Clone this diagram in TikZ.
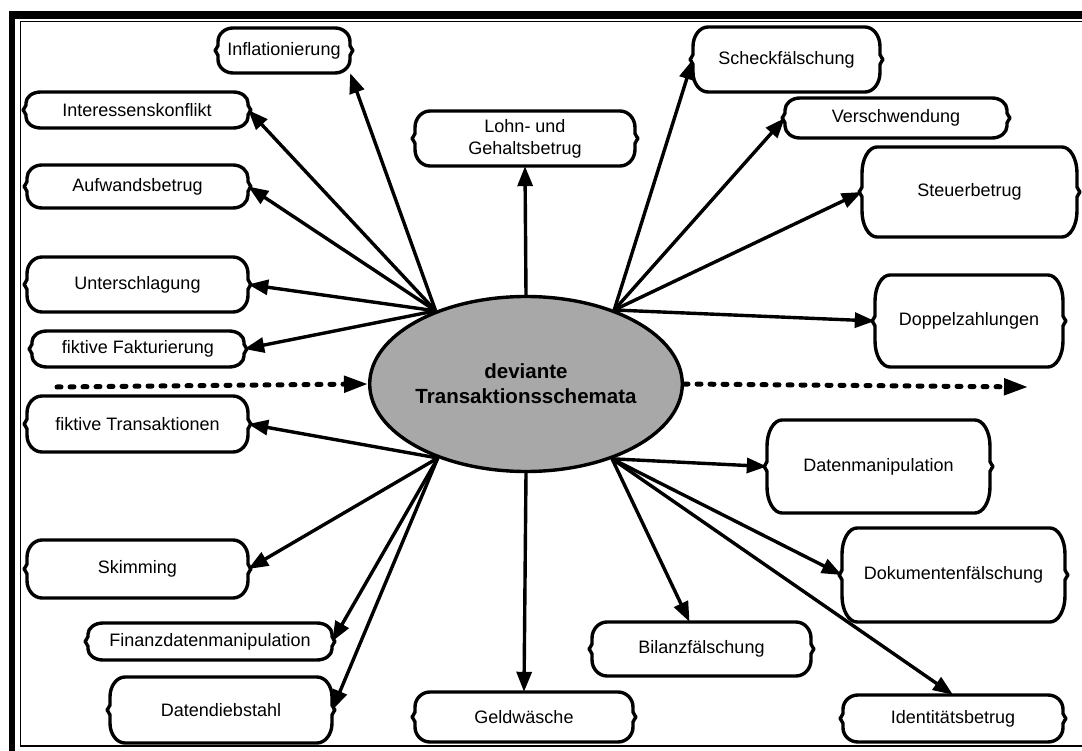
\documentclass[tikz,border=0pt]{standalone}
\usepackage{fontspec}
\setmainfont{Liberation Sans}
\usetikzlibrary{shapes.geometric,arrows.meta}
\definecolor{hubgray}{RGB}{168,168,168}
\tikzset{
  boxline/.style={line width=3.4pt, line join=round},
  boxlabel/.style={inner sep=0pt, font=\fontsize{18}{22}\selectfont, align=center},
  link/.style={line width=3.4pt, -{Triangle[length=20pt,width=15pt]}},
  flow/.style={line width=5pt, line cap=round, dash pattern=on 4pt off 9pt,
    -{Triangle[length=24pt,width=16pt]}},
  framebar/.style={fill=black},
}
% scheme box with rounded corners and a small brace-like bump on each side
% #1 name, #2 left, #3 top, #4 right, #5 bottom, #6 label
\newcommand\wbox[6]{%
  \pgfmathsetmacro\bxa{#2}\pgfmathsetmacro\bya{#3}%
  \pgfmathsetmacro\bxb{#4}\pgfmathsetmacro\byb{#5}%
  \pgfmathsetmacro\bym{(#3+#5)/2}%
  \pgfmathsetmacro\bry{min(0.3*(#5-#3),26)}%
  \pgfmathsetmacro\brx{min(15,0.3*(#5-#3)+4)}%
  \draw[boxline] (\bxa+\brx,\bya) -- (\bxb-\brx,\bya)
    .. controls (\bxb-0.45*\brx,\bya) and (\bxb,\bya+0.45*\bry) .. (\bxb,\bya+\bry)
    -- (\bxb,\bym-5)
    .. controls (\bxb,\bym-2) and (\bxb+3,\bym-2) .. (\bxb+3,\bym)
    .. controls (\bxb+3,\bym+2) and (\bxb,\bym+2) .. (\bxb,\bym+5)
    -- (\bxb,\byb-\bry)
    .. controls (\bxb,\byb-0.45*\bry) and (\bxb-0.45*\brx,\byb) .. (\bxb-\brx,\byb)
    -- (\bxa+\brx,\byb)
    .. controls (\bxa+0.45*\brx,\byb) and (\bxa,\byb-0.45*\bry) .. (\bxa,\byb-\bry)
    -- (\bxa,\bym+5)
    .. controls (\bxa,\bym+2) and (\bxa-3,\bym+2) .. (\bxa-3,\bym)
    .. controls (\bxa-3,\bym-2) and (\bxa,\bym-2) .. (\bxa,\bym-5)
    -- (\bxa,\bya+\bry)
    .. controls (\bxa,\bya+0.45*\bry) and (\bxa+0.45*\brx,\bya) .. (\bxa+\brx,\bya)
    -- cycle;
  \node[boxlabel, minimum width={(#4-#2)*1pt}, minimum height={(#5-#3)*1pt}]
    (#1) at ({(#2+#4)/2},\bym) {#6};%
}
\begin{document}
\begin{tikzpicture}[x=1pt,y=-1pt]
  \useasboundingbox (0,0) rectangle (1082,751);
  \fill[white] (0,0) rectangle (1082,751);

  % page frame
  \fill[framebar] (9,11) rectangle (15,751);
  \fill[framebar] (9,11) rectangle (1082,19);
  \draw[line width=1.8pt] (20.5,746) -- (20.5,21.5) -- (1082,21.5);
  \draw[line width=2.6pt] (19.6,746) -- (1082,746);

  % central scheme
  \node[ellipse, draw, line width=3.4pt, fill=hubgray, minimum width=275pt,
        minimum height=175pt, inner sep=0pt, align=center,
        font=\bfseries\fontsize{20.5}{25}\selectfont] (hub) at (526,384)
        {deviante\\Transaktionsschemata};

  % scheme variants
  \wbox{infl}{218}{28}{350}{73}{Inflationierung}
  \wbox{inte}{26}{92}{248}{128}{Interessenskonflikt}
  \wbox{aufw}{27}{165}{248}{208}{Aufwandsbetrug}
  \wbox{unte}{27}{257}{248}{312}{Unterschlagung}
  \wbox{fakt}{32}{331}{244}{367}{fiktive Fakturierung}
  \wbox{ftra}{27}{396}{248}{452}{fiktive Transaktionen}
  \wbox{skim}{27}{540}{248}{598}{Skimming}
  \wbox{finz}{88}{623}{332}{660}{Finanzdatenmanipulation}
  \wbox{dieb}{110}{677}{332}{743}{Datendiebstahl}
  \wbox{geld}{415}{692}{633}{742}{Geldwäsche}
  \wbox{bila}{592}{622}{811}{676}{Bilanzfälschung}
  \wbox{iden}{843}{695}{1063}{742}{Identitätsbetrug}
  \wbox{doku}{842}{528}{1065}{622}{Dokumentenfälschung}
  \wbox{datm}{767}{420}{990}{513}{Datenmanipulation}
  \wbox{dopp}{875}{275}{1063}{367}{Doppelzahlungen}
  \wbox{steu}{862}{147}{1077}{237}{Steuerbetrug}
  \wbox{vers}{785}{98}{1007}{138}{Verschwendung}
  \wbox{sche}{693}{27}{880}{92}{Scheckfälschung}
  \wbox{lohn}{415}{111}{635}{166}{Lohn- und\\Gehaltsbetrug}

  % connectors
  \draw[link] (hub.141) -- (infl.south east);
  \draw[link] (hub.141) -- (inte.east);
  \draw[link] (hub.141) -- (aufw.east);
  \draw[link] (hub.141) -- (unte.east);
  \draw[link] (hub.141) -- (fakt.east);
  \draw[link] (hub.north) -- (lohn.south);
  \draw[link] (hub.40) -- (sche.west);
  \draw[link] (hub.40) -- (vers.west);
  \draw[link] (hub.40) -- (steu.west);
  \draw[link] (hub.40) -- (dopp.west);
  \draw[link] (hub.220) -- (ftra.east);
  \draw[link] (hub.220) -- (skim.east);
  \draw[link] (hub.220) -- (finz.east);
  \draw[link] (hub.220) -- (dieb.east);
  \draw[link] (hub.south) -- (geld.north);
  \draw[link] (hub.319) -- (datm.west);
  \draw[link] (hub.319) -- (doku.west);
  \draw[link] (hub.319) -- ([xshift=-12pt]bila.north);
  \draw[link] (hub.319) -- (iden.north);

  % flow through the scheme
  \coordinate (flowin) at (57,387);
  \coordinate (flowout) at (1028,387);
  \draw[flow] (flowin) -- (hub.west);
  \draw[flow] (hub.east) -- (flowout);
\end{tikzpicture}
\end{document}
